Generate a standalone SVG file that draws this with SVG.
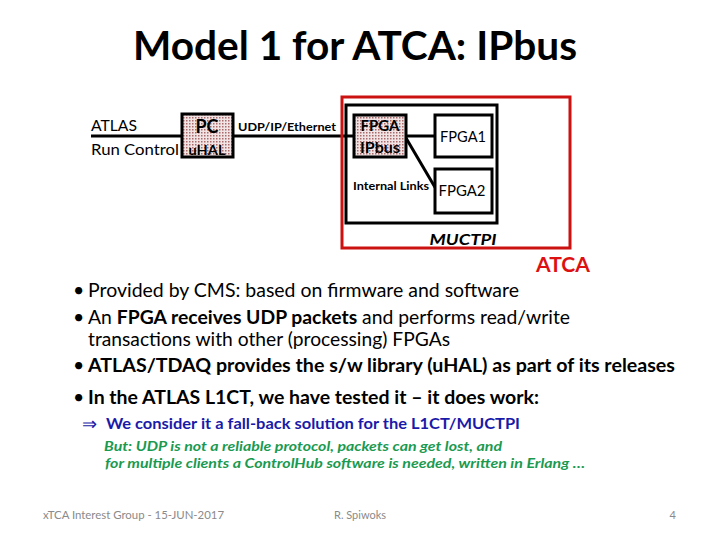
<svg xmlns="http://www.w3.org/2000/svg" width="720" height="540" viewBox="0 0 720 540">
<defs>
<pattern id="dots" width="3" height="3" patternUnits="userSpaceOnUse">
<rect width="3" height="3" fill="#f2e4e4"/>
<rect x="0" y="0" width="1.5" height="1.5" fill="#a86a6a"/>
</pattern>
</defs>
<style>
text{font-family:Lato,"Open Sans","Liberation Sans",sans-serif;}
.b{font-weight:bold;}
.box{stroke:#000;stroke-width:3;}
.hatch{fill:url(#dots);}
.plain{fill:#fff;}
.ln{stroke:#000;stroke-width:3;fill:none;}
.body{font-size:19.5px;fill:#000;}
</style>
<rect width="720" height="540" fill="#fff"/>
<text x="355" y="60" text-anchor="middle" class="b" font-size="40" textLength="444" lengthAdjust="spacingAndGlyphs">Model 1 for ATCA: IPbus</text>
<g id="connectors">
<line class="ln" x1="91" y1="136" x2="354" y2="136"/>
<line class="ln" x1="406" y1="136" x2="435" y2="136"/>
<line class="ln" x1="406" y1="138" x2="436" y2="189"/>
</g>
<g id="atca">
<rect x="342" y="97" width="228" height="151" fill="none" stroke="#cc1111" stroke-width="3"/>
<text x="563" y="272" text-anchor="middle" class="b" font-size="20" fill="#dd1111" textLength="54" lengthAdjust="spacingAndGlyphs">ATCA</text>
</g>
<g id="muctpi">
<rect class="box" x="346" y="105" width="151" height="118" fill="none"/>
<text x="463" y="245" text-anchor="middle" class="b" font-style="italic" font-size="16" textLength="67" lengthAdjust="spacingAndGlyphs">MUCTPI</text>
<text x="353" y="190" class="b" font-size="11" textLength="76" lengthAdjust="spacingAndGlyphs">Internal Links</text>
</g>
<g id="labels">
<text x="91" y="131" font-size="15" textLength="46" lengthAdjust="spacingAndGlyphs">ATLAS</text>
<text x="91" y="155" font-size="15" textLength="88" lengthAdjust="spacingAndGlyphs">Run Control</text>
<text x="238" y="131" class="b" font-size="11.5" textLength="98" lengthAdjust="spacingAndGlyphs">UDP/IP/Ethernet</text>
</g>
<g id="pc">
<rect class="box hatch" x="182" y="114" width="51" height="43"/>
<text x="207" y="133" text-anchor="middle" class="b" font-size="18" textLength="23" lengthAdjust="spacingAndGlyphs">PC</text>
<text x="207" y="155" text-anchor="middle" class="b" font-size="13" textLength="37" lengthAdjust="spacingAndGlyphs">uHAL</text>
</g>
<g id="fpga-ipbus">
<rect class="box hatch" x="354" y="115" width="52" height="42"/>
<text x="380" y="131" text-anchor="middle" class="b" font-size="15" textLength="39" lengthAdjust="spacingAndGlyphs">FPGA</text>
<text x="380" y="153" text-anchor="middle" class="b" font-size="15" textLength="40" lengthAdjust="spacingAndGlyphs">IPbus</text>
</g>
<g id="fpga1">
<rect class="box plain" x="435" y="115" width="57" height="42"/>
<text x="463" y="142" text-anchor="middle" font-size="15" textLength="46" lengthAdjust="spacingAndGlyphs">FPGA1</text>
</g>
<g id="fpga2">
<rect class="box plain" x="435" y="169" width="57" height="44"/>
<text x="462" y="196" text-anchor="middle" font-size="15" textLength="47" lengthAdjust="spacingAndGlyphs">FPGA2</text>
</g>
<g id="bullets" class="body">
<text x="73" y="297" class="body">•</text>
<text x="88" y="297" class="body" textLength="431" lengthAdjust="spacingAndGlyphs">Provided by CMS: based on firmware and software</text>
<text x="73" y="324" class="body">•</text>
<text x="88" y="324" class="body" textLength="482" lengthAdjust="spacingAndGlyphs">An <tspan class="b">FPGA receives UDP packets</tspan> and performs read/write</text>
<text x="88" y="346" class="body" textLength="362" lengthAdjust="spacingAndGlyphs">transactions with other (processing) FPGAs</text>
<text x="73" y="372" class="body">•</text>
<text x="88" y="372" class="body b" textLength="587" lengthAdjust="spacingAndGlyphs">ATLAS/TDAQ provides the s/w library (uHAL) as part of its releases</text>
<text x="73" y="404" class="body">•</text>
<text x="88" y="404" class="body b" textLength="451" lengthAdjust="spacingAndGlyphs">In the ATLAS L1CT, we have tested it – it does work:</text>
</g>
<g id="sub">
<text x="82" y="430" font-size="18" fill="#1a1aa8" font-family="DejaVu Sans, sans-serif">⇒</text>
<text x="106" y="429" class="b" font-size="15" fill="#1a1aa8" textLength="414" lengthAdjust="spacingAndGlyphs">We consider it a fall-back solution for the L1CT/MUCTPI</text>
<text x="104" y="451" class="b" font-style="italic" font-size="13.5" fill="#1a9a50" textLength="398" lengthAdjust="spacingAndGlyphs">But: UDP is not a reliable protocol, packets can get lost, and</text>
<text x="105" y="468" class="b" font-style="italic" font-size="13.5" fill="#1a9a50" textLength="480" lengthAdjust="spacingAndGlyphs">for multiple clients a ControlHub software is needed, written in Erlang …</text>
</g>
<g id="footer" fill="#8a8a8a" font-size="11">
<text x="43" y="519" fill="#8a8a8a" font-size="11" textLength="181" lengthAdjust="spacingAndGlyphs">xTCA Interest Group - 15-JUN-2017</text>
<text x="334" y="519" fill="#8a8a8a" font-size="11" textLength="52" lengthAdjust="spacingAndGlyphs">R. Spiwoks</text>
<text x="676" y="519" text-anchor="end" fill="#8a8a8a" font-size="11">4</text>
</g>
</svg>
